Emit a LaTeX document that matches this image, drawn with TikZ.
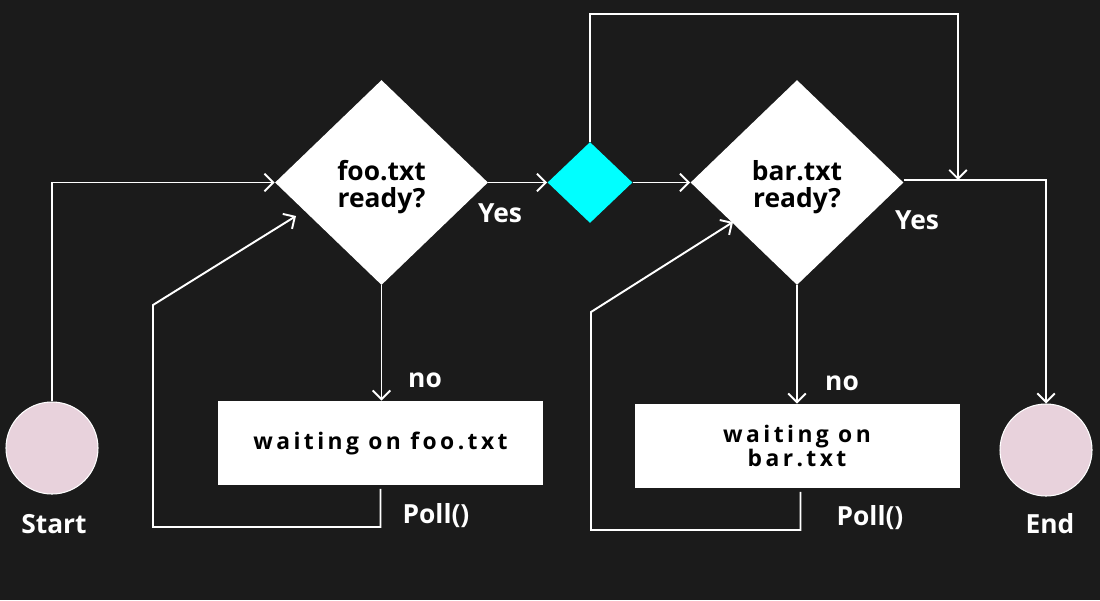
\documentclass[tikz,border=0pt]{standalone}
\usepackage{fontspec}
\setmainfont{Open Sans}
\newfontfamily\spacedfont{Open Sans}[LetterSpace=15]
\usepackage{tikz}
\usetikzlibrary{arrows.meta,shapes.geometric,positioning}
\usepackage{xcolor}
\definecolor{bgdark}{HTML}{1B1B1B}
\definecolor{endpink}{HTML}{E8D2DC}
\definecolor{gatecyan}{HTML}{00FFFF}

\begin{document}
\begin{tikzpicture}[
        decision/.style={diamond, fill=white, inner sep=0pt, aspect=1, minimum width=4.26cm, minimum height=4.1cm, text width=2.6cm, align=center, font=\fontsize{15}{15.5}\selectfont\bfseries, text=black},
        gatebox/.style={diamond, fill=gatecyan, inner sep=0pt, aspect=1, minimum width=1.7cm, minimum height=1.62cm},
        waitbox/.style={rectangle, fill=white, minimum width=6.5cm, minimum height=1.68cm, align=center, font=\spacedfont\fontsize{13}{14}\selectfont\bfseries, text=black},
        terminal/.style={circle, fill=endpink, draw=white, line width=0.6pt, minimum size=1.84cm},
        arrow/.style={draw=white, line width=1.1pt, -{Straight Barb[length=5pt,width=10pt]}},
        label/.style={text=white, font=\fontsize{15}{15.5}\selectfont\bfseries}
    ]

    % Dark background fixes the page size
    \fill[bgdark] (0,0) rectangle (22,-12);

    % Start and end points
    \node[terminal] (start) at (1.04,-8.96) {};
    \node[terminal] (finish) at (20.92,-9.0) {};
    \node[label] (startlbl) at (1.08,-10.48) {Start};
    \node[label] (finishlbl) at (21.0,-10.48) {End};

    % Decisions and the gate between them
    \node[decision] (fooq) at (7.63,-3.65) {\rule{0pt}{17pt}foo.txt\\ready?};
    \node[gatebox] (gate) at (11.8,-3.65) {};
    \node[decision] (barq) at (15.94,-3.65) {\rule{0pt}{17pt}bar.txt\\ready?};

    % Waiting boxes
    \node[waitbox] (waitfoo) at (7.61,-8.86) {waiting on foo.txt};
    \node[waitbox] (waitbar) at (15.94,-8.92) {waiting on\\bar.txt};

    % Corner points of the loops
    \coordinate (looptop) at (11.8,-0.28);
    \coordinate (merge) at (19.16,-3.6);
    \coordinate (pollfooA) at (3.06,-10.54);
    \coordinate (pollfooB) at (3.06,-6.1);
    \coordinate (fooin) at (5.92,-4.32);
    \coordinate (pollbarA) at (11.82,-10.6);
    \coordinate (pollbarB) at (11.82,-6.24);
    \coordinate (barin) at (14.66,-4.44);

    % Main flow
    \draw[arrow] (start.north) |- (fooq.west);
    \draw[arrow] (fooq.east) -- (gate.west);
    \draw[arrow] (gate.east) -- (barq.west);
    \draw[arrow] (gate.north) -- (looptop) -| (merge);
    \draw[arrow] ([yshift=1.5pt]barq.east) -| (finish.north);
    \draw[arrow] (fooq.south) -- (fooq.south |- waitfoo.north);
    \draw[arrow] (barq.south) -- (barq.south |- waitbar.north);

    % Poll loops back to the decisions
    \draw[arrow] ([yshift=-2pt]waitfoo.south) |- (pollfooA) -- (pollfooB) -- (fooin);
    \draw[arrow] ([xshift=2pt,yshift=-2pt]waitbar.south) |- (pollbarA) -- (pollbarB) -- (barin);

    % Labels
    \node[label] (yesfoo) at (10.0,-4.26) {Yes};
    \node[label] (yesbar) at (18.34,-4.4) {Yes};
    \node[label] (nofoo) at (8.5,-7.6) {no};
    \node[label] (nobar) at (16.84,-7.66) {no};
    \node[label] (pollfoo) at (8.72,-10.32) {Poll()};
    \node[label] (pollbar) at (17.4,-10.36) {Poll()};

\end{tikzpicture}
\end{document}
